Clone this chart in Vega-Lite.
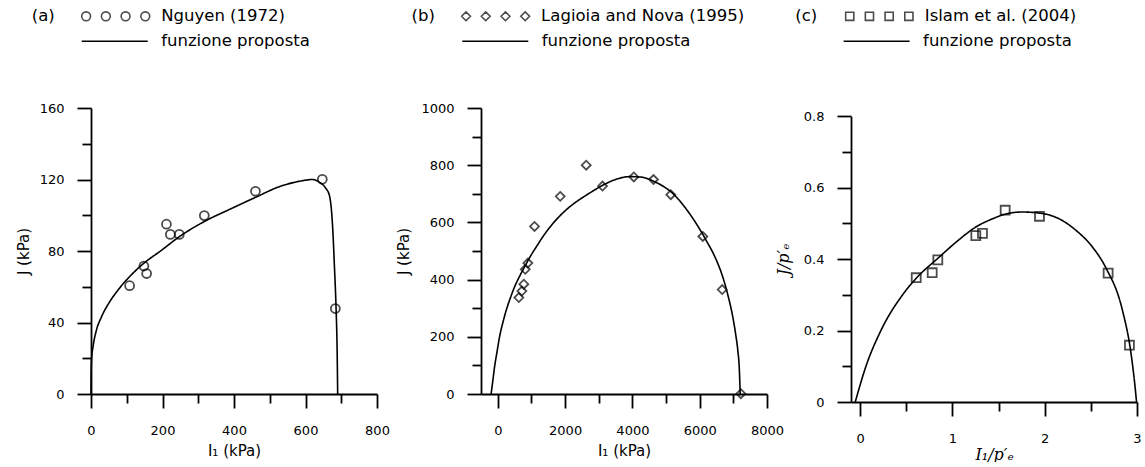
{
  "$schema": "https://vega.github.io/schema/vega-lite/v6.json",
  "padding": {"left": 16, "top": 6, "right": 0, "bottom": 0},
  "config": {
    "font": "DejaVu Sans",
    "view": {"stroke": null},
    "axis": {"domainColor": "black", "tickColor": "black", "domainWidth": 1.8, "tickWidth": 1.8, "labelColor": "black", "labelFontSize": 13, "labelFont": "DejaVu Sans", "titleColor": "black", "titleFontWeight": "normal", "titleFontSize": 15, "grid": false, "labelFlush": false, "labelBound": false, "labelOverlap": false},
    "legend": {"labelColor": "black", "titleColor": "black", "labelFontSize": 16.5, "titleFontSize": 16.5, "titleFontWeight": "normal", "padding": 0, "labelFont": "DejaVu Sans", "titleFont": "DejaVu Sans", "labelLimit": 400}
  },
  "datasets": {
    "ptsA": [
      {"I1": 108, "J": 60.6, "src": "Nguyen (1972)"},
      {"I1": 148, "J": 71.6, "src": "Nguyen (1972)"},
      {"I1": 155.6, "J": 67.4, "src": "Nguyen (1972)"},
      {"I1": 211, "J": 95, "src": "Nguyen (1972)"},
      {"I1": 222, "J": 89.3, "src": "Nguyen (1972)"},
      {"I1": 247, "J": 89.3, "src": "Nguyen (1972)"},
      {"I1": 317, "J": 99.8, "src": "Nguyen (1972)"},
      {"I1": 460, "J": 113.4, "src": "Nguyen (1972)"},
      {"I1": 647, "J": 120.1, "src": "Nguyen (1972)"},
      {"I1": 683.5, "J": 47.8, "src": "Nguyen (1972)"}
    ],
    "curveA": [
      {"I1": 0, "J": 0, "fit": "funzione proposta"},
      {"I1": 0.2, "J": 8, "fit": "funzione proposta"},
      {"I1": 0.7, "J": 15, "fit": "funzione proposta"},
      {"I1": 1.8, "J": 20, "fit": "funzione proposta"},
      {"I1": 5.6, "J": 26.3, "fit": "funzione proposta"},
      {"I1": 15, "J": 35.6, "fit": "funzione proposta"},
      {"I1": 29, "J": 43, "fit": "funzione proposta"},
      {"I1": 52, "J": 51.5, "fit": "funzione proposta"},
      {"I1": 75, "J": 58, "fit": "funzione proposta"},
      {"I1": 103, "J": 64.6, "fit": "funzione proposta"},
      {"I1": 141, "J": 72, "fit": "funzione proposta"},
      {"I1": 197, "J": 80.4, "fit": "funzione proposta"},
      {"I1": 247, "J": 88, "fit": "funzione proposta"},
      {"I1": 317, "J": 96.5, "fit": "funzione proposta"},
      {"I1": 390, "J": 103.5, "fit": "funzione proposta"},
      {"I1": 460, "J": 110, "fit": "funzione proposta"},
      {"I1": 527, "J": 116, "fit": "funzione proposta"},
      {"I1": 583, "J": 119, "fit": "funzione proposta"},
      {"I1": 620, "J": 120, "fit": "funzione proposta"},
      {"I1": 638, "J": 118.6, "fit": "funzione proposta"},
      {"I1": 657, "J": 115, "fit": "funzione proposta"},
      {"I1": 667, "J": 111, "fit": "funzione proposta"},
      {"I1": 676, "J": 93, "fit": "funzione proposta"},
      {"I1": 681, "J": 71, "fit": "funzione proposta"},
      {"I1": 685.5, "J": 48, "fit": "funzione proposta"},
      {"I1": 688.5, "J": 24, "fit": "funzione proposta"},
      {"I1": 690, "J": 0, "fit": "funzione proposta"}
    ],
    "ptsB": [
      {"I1": 624, "J": 337, "src": "Lagioia and Nova (1995)"},
      {"I1": 714, "J": 360, "src": "Lagioia and Nova (1995)"},
      {"I1": 773, "J": 384, "src": "Lagioia and Nova (1995)"},
      {"I1": 815, "J": 436, "src": "Lagioia and Nova (1995)"},
      {"I1": 892, "J": 458, "src": "Lagioia and Nova (1995)"},
      {"I1": 1091, "J": 586, "src": "Lagioia and Nova (1995)"},
      {"I1": 1854, "J": 691, "src": "Lagioia and Nova (1995)"},
      {"I1": 2627, "J": 800, "src": "Lagioia and Nova (1995)"},
      {"I1": 3111, "J": 727, "src": "Lagioia and Nova (1995)"},
      {"I1": 4042, "J": 759, "src": "Lagioia and Nova (1995)"},
      {"I1": 4627, "J": 750, "src": "Lagioia and Nova (1995)"},
      {"I1": 5141, "J": 697, "src": "Lagioia and Nova (1995)"},
      {"I1": 6093, "J": 551, "src": "Lagioia and Nova (1995)"},
      {"I1": 6668, "J": 365, "src": "Lagioia and Nova (1995)"},
      {"I1": 7225, "J": 1, "src": "Lagioia and Nova (1995)"}
    ],
    "curveB": [
      {"I1": -200, "J": 0, "fit": "funzione proposta"},
      {"I1": -150, "J": 45, "fit": "funzione proposta"},
      {"I1": -98, "J": 94, "fit": "funzione proposta"},
      {"I1": -20, "J": 150, "fit": "funzione proposta"},
      {"I1": 50, "J": 199, "fit": "funzione proposta"},
      {"I1": 150, "J": 250, "fit": "funzione proposta"},
      {"I1": 250, "J": 293, "fit": "funzione proposta"},
      {"I1": 370, "J": 335, "fit": "funzione proposta"},
      {"I1": 496, "J": 374, "fit": "funzione proposta"},
      {"I1": 640, "J": 410, "fit": "funzione proposta"},
      {"I1": 793, "J": 444, "fit": "funzione proposta"},
      {"I1": 960, "J": 480, "fit": "funzione proposta"},
      {"I1": 1141, "J": 514, "fit": "funzione proposta"},
      {"I1": 1380, "J": 557, "fit": "funzione proposta"},
      {"I1": 1635, "J": 596, "fit": "funzione proposta"},
      {"I1": 1880, "J": 627, "fit": "funzione proposta"},
      {"I1": 2131, "J": 654, "fit": "funzione proposta"},
      {"I1": 2380, "J": 676, "fit": "funzione proposta"},
      {"I1": 2627, "J": 695, "fit": "funzione proposta"},
      {"I1": 2870, "J": 713, "fit": "funzione proposta"},
      {"I1": 3120, "J": 730, "fit": "funzione proposta"},
      {"I1": 3500, "J": 750, "fit": "funzione proposta"},
      {"I1": 3900, "J": 760, "fit": "funzione proposta"},
      {"I1": 4211, "J": 759, "fit": "funzione proposta"},
      {"I1": 4700, "J": 740, "fit": "funzione proposta"},
      {"I1": 5201, "J": 701, "fit": "funzione proposta"},
      {"I1": 5697, "J": 631, "fit": "funzione proposta"},
      {"I1": 6193, "J": 537, "fit": "funzione proposta"},
      {"I1": 6450, "J": 480, "fit": "funzione proposta"},
      {"I1": 6686, "J": 409, "fit": "funzione proposta"},
      {"I1": 6850, "J": 340, "fit": "funzione proposta"},
      {"I1": 6984, "J": 269, "fit": "funzione proposta"},
      {"I1": 7080, "J": 200, "fit": "funzione proposta"},
      {"I1": 7132, "J": 153, "fit": "funzione proposta"},
      {"I1": 7180, "J": 80, "fit": "funzione proposta"},
      {"I1": 7203, "J": 0, "fit": "funzione proposta"}
    ],
    "ptsC": [
      {"x": 0.607, "y": 0.348, "src": "Islam et al. (2004)"},
      {"x": 0.78, "y": 0.362, "src": "Islam et al. (2004)"},
      {"x": 0.841, "y": 0.398, "src": "Islam et al. (2004)"},
      {"x": 1.253, "y": 0.466, "src": "Islam et al. (2004)"},
      {"x": 1.325, "y": 0.472, "src": "Islam et al. (2004)"},
      {"x": 1.571, "y": 0.537, "src": "Islam et al. (2004)"},
      {"x": 1.943, "y": 0.52, "src": "Islam et al. (2004)"},
      {"x": 2.687, "y": 0.361, "src": "Islam et al. (2004)"},
      {"x": 2.918, "y": 0.159, "src": "Islam et al. (2004)"}
    ],
    "curveC": [
      {"x": -0.054, "y": 0, "fit": "funzione proposta"},
      {"x": 0.062, "y": 0.1, "fit": "funzione proposta"},
      {"x": 0.224, "y": 0.2, "fit": "funzione proposta"},
      {"x": 0.459, "y": 0.3, "fit": "funzione proposta"},
      {"x": 0.62, "y": 0.35, "fit": "funzione proposta"},
      {"x": 0.84, "y": 0.402, "fit": "funzione proposta"},
      {"x": 1.05, "y": 0.45, "fit": "funzione proposta"},
      {"x": 1.253, "y": 0.49, "fit": "funzione proposta"},
      {"x": 1.434, "y": 0.513, "fit": "funzione proposta"},
      {"x": 1.571, "y": 0.526, "fit": "funzione proposta"},
      {"x": 1.758, "y": 0.532, "fit": "funzione proposta"},
      {"x": 1.943, "y": 0.529, "fit": "funzione proposta"},
      {"x": 2.156, "y": 0.513, "fit": "funzione proposta"},
      {"x": 2.337, "y": 0.481, "fit": "funzione proposta"},
      {"x": 2.517, "y": 0.434, "fit": "funzione proposta"},
      {"x": 2.66, "y": 0.377, "fit": "funzione proposta"},
      {"x": 2.842, "y": 0.257, "fit": "funzione proposta"},
      {"x": 2.93, "y": 0.145, "fit": "funzione proposta"},
      {"x": 2.98, "y": 0.04, "fit": "funzione proposta"},
      {"x": 2.995, "y": 0, "fit": "funzione proposta"}
    ]
  },
  "bounds": "flush",
  "spacing": 104,
  "resolve": {"scale": {"color": "independent", "strokeDash": "independent"}, "legend": {"color": "independent", "strokeDash": "independent"}},
  "hconcat": [
    {
      "width": 286,
      "height": 286,
      "resolve": {"axis": {"x": "independent", "y": "independent"}},
      "layer": [
        {
          "data": {"name": "curveA"},
          "mark": {"type": "line", "color": "black", "strokeWidth": 1.6, "interpolate": "monotone"},
          "encoding": {
            "x": {"field": "I1", "type": "quantitative", "scale": {"domain": [0, 800], "nice": false, "zero": false},
              "axis": {"orient": "bottom", "title": "I₁ (kPa)", "values": [0, 200, 400, 600, 800], "format": "d", "tickSize": 14,
                "labelPadding": 16, "titleX": 143, "titleY": 56, "titleBaseline": "middle"}},
            "y": {"field": "J", "type": "quantitative", "scale": {"domain": [0, 160], "nice": false},
              "axis": {"orient": "left", "title": "J (kPa)", "values": [0, 40, 80, 120, 160], "format": "d", "tickSize": 14,
                "labelPadding": 13, "titleX": -68, "titleY": 143, "titleBaseline": "middle"}},
            "strokeDash": {"field": "fit", "type": "nominal", "scale": {"range": [[1, 0]]},
              "legend": {"title": null, "orient": "none", "legendX": -10.3, "legendY": -76.7, "symbolType": "stroke", "symbolSize": 4356, "symbolStrokeWidth": 1.6, "symbolStrokeColor": "black", "clipHeight": 20, "labelOffset": 12.5}}
          }
        },
        {
          "data": {"name": "ptsA"},
          "mark": {"type": "point", "filled": false, "size": 80, "strokeWidth": 1.8},
          "encoding": {
            "x": {"field": "I1", "type": "quantitative", "scale": {"domain": [0, 800], "nice": false, "zero": false},
              "axis": {"orient": "bottom", "title": null, "values": [100, 300, 500, 700], "tickSize": 9, "labels": false, "domain": false}},
            "y": {"field": "J", "type": "quantitative", "scale": {"domain": [0, 160], "nice": false},
              "axis": {"orient": "left", "title": null, "values": [20, 60, 100, 140], "tickSize": 9, "labels": false, "domain": false}},
            "color": {"field": "src", "type": "nominal", "scale": {"range": ["black"]},
              "legend": {"title": "(a)", "titleOrient": "left", "titlePadding": 26, "orient": "none", "legendX": -59.3, "legendY": -101.7,
                "symbolType": "M-1,0a0.13,0.13 0 1,0 0.26,0a0.13,0.13 0 1,0 -0.26,0M-0.42,0a0.13,0.13 0 1,0 0.26,0a0.13,0.13 0 1,0 -0.26,0M0.16,0a0.13,0.13 0 1,0 0.26,0a0.13,0.13 0 1,0 -0.26,0M0.74,0a0.13,0.13 0 1,0 0.26,0a0.13,0.13 0 1,0 -0.26,0",
                "symbolSize": 4624, "symbolStrokeWidth": 1.6, "symbolStrokeColor": "black", "clipHeight": 20, "labelOffset": 10.5}}
          }
        }
      ]
    },
    {
      "bounds": "flush",
      "spacing": 84,
      "resolve": {"scale": {"color": "independent", "strokeDash": "independent"}, "legend": {"color": "independent", "strokeDash": "independent"}},
      "hconcat": [
        {
          "width": 286,
          "height": 286,
          "resolve": {"axis": {"x": "independent", "y": "independent"}},
          "layer": [
            {
              "data": {"name": "curveB"},
              "mark": {"type": "line", "color": "black", "strokeWidth": 1.6, "interpolate": "monotone"},
              "encoding": {
                "x": {"field": "I1", "type": "quantitative", "scale": {"domain": [-500, 8000], "nice": false, "zero": false},
                  "axis": {"orient": "bottom", "title": "I₁ (kPa)", "values": [0, 2000, 4000, 6000, 8000], "format": "d", "tickSize": 14,
                    "labelPadding": 16, "titleX": 143, "titleY": 56, "titleBaseline": "middle"}},
                "y": {"field": "J", "type": "quantitative", "scale": {"domain": [0, 1000], "nice": false},
                  "axis": {"orient": "left", "title": "J (kPa)", "values": [0, 200, 400, 600, 800, 1000], "format": "d", "tickSize": 14,
                    "labelPadding": 13, "titleX": -78, "titleY": 143, "titleBaseline": "middle"}},
                "strokeDash": {"field": "fit", "type": "nominal", "scale": {"range": [[1, 0]]},
                  "legend": {"title": null, "orient": "none", "legendX": -19.7, "legendY": -76.7, "symbolType": "stroke", "symbolSize": 4356, "symbolStrokeWidth": 1.6, "symbolStrokeColor": "black", "clipHeight": 20, "labelOffset": 12.5}}
              }
            },
            {
              "data": {"name": "ptsB"},
              "mark": {"type": "point", "shape": "diamond", "filled": false, "size": 80, "strokeWidth": 1.8},
              "encoding": {
                "x": {"field": "I1", "type": "quantitative", "scale": {"domain": [-500, 8000], "nice": false, "zero": false},
                  "axis": {"orient": "bottom", "title": null, "values": [1000, 3000, 5000, 7000], "tickSize": 9, "labels": false, "domain": false}},
                "y": {"field": "J", "type": "quantitative", "scale": {"domain": [0, 1000], "nice": false},
                  "axis": {"orient": "left", "title": null, "values": [100, 300, 500, 700, 900], "tickSize": 9, "labels": false, "domain": false}},
                "color": {"field": "src", "type": "nominal", "scale": {"range": ["black"]},
                  "legend": {"title": "(b)", "titleOrient": "left", "titlePadding": 25, "orient": "none", "legendX": -69.4, "legendY": -101.7,
                    "symbolType": "M-1,0L-0.87,-0.13L-0.74,0L-0.87,0.13ZM-0.42,0L-0.29,-0.13L-0.16,0L-0.29,0.13ZM0.16,0L0.29,-0.13L0.42,0L0.29,0.13ZM0.74,0L0.87,-0.13L1,0L0.87,0.13Z",
                    "symbolSize": 4624, "symbolStrokeWidth": 1.6, "symbolStrokeColor": "black", "clipHeight": 20, "labelOffset": 10.5}}
              }
            }
          ]
        },
        {
          "width": 286,
          "height": 294,
          "resolve": {"axis": {"x": "independent", "y": "independent"}},
          "layer": [
            {
              "data": {"name": "curveC"},
              "mark": {"type": "line", "color": "black", "strokeWidth": 1.6, "interpolate": "monotone"},
              "encoding": {
                "x": {"field": "x", "type": "quantitative", "scale": {"domain": [-0.1, 3], "nice": false, "zero": false},
                  "axis": {"orient": "bottom", "title": "I₁/p′ₑ", "titleFont": "DejaVu Serif", "titleFontStyle": "italic", "titleFontSize": 16, "values": [0, 1, 2, 3], "format": "d", "tickSize": 14,
                    "labelPadding": 16, "titleX": 143, "titleY": 52, "titleBaseline": "middle"}},
                "y": {"field": "y", "type": "quantitative", "scale": {"domain": [0, 0.8], "nice": false, "range": [294, 8.3]},
                  "axis": {"orient": "left", "title": "J/p′ₑ", "titleFont": "DejaVu Serif", "titleFontStyle": "italic", "titleFontSize": 16, "values": [0, 0.2, 0.4, 0.6, 0.8], "format": "~g", "tickSize": 14,
                    "labelPadding": 13, "titleX": -68, "titleY": 151, "titleBaseline": "middle"}},
                "strokeDash": {"field": "fit", "type": "nominal", "scale": {"range": [[1, 0]]},
                  "legend": {"title": null, "orient": "none", "legendX": -8.4, "legendY": -76.7, "symbolType": "stroke", "symbolSize": 4356, "symbolStrokeWidth": 1.6, "symbolStrokeColor": "black", "clipHeight": 20, "labelOffset": 12.5}}
              }
            },
            {
              "data": {"name": "ptsC"},
              "mark": {"type": "point", "shape": "square", "filled": false, "size": 80, "strokeWidth": 1.8},
              "encoding": {
                "x": {"field": "x", "type": "quantitative", "scale": {"domain": [-0.1, 3], "nice": false, "zero": false},
                  "axis": {"orient": "bottom", "title": null, "values": [0.5, 1.5, 2.5], "tickSize": 9, "labels": false, "domain": false}},
                "y": {"field": "y", "type": "quantitative", "scale": {"domain": [0, 0.8], "nice": false, "range": [294, 8.3]},
                  "axis": {"orient": "left", "title": null, "values": [0.1, 0.3, 0.5, 0.7], "tickSize": 9, "labels": false, "domain": false}},
                "color": {"field": "src", "type": "nominal", "scale": {"range": ["black"]},
                  "legend": {"title": "(c)", "titleOrient": "left", "titlePadding": 27, "orient": "none", "legendX": -55.7, "legendY": -101.7,
                    "symbolType": "M-0.99,-0.12H-0.75V0.12H-0.99ZM-0.41,-0.12H-0.17V0.12H-0.41ZM0.17,-0.12H0.41V0.12H0.17ZM0.75,-0.12H0.99V0.12H0.75Z",
                    "symbolSize": 4624, "symbolStrokeWidth": 1.6, "symbolStrokeColor": "black", "clipHeight": 20, "labelOffset": 10.5}}
              }
            }
          ]
        }
      ]
    }
  ]
}
